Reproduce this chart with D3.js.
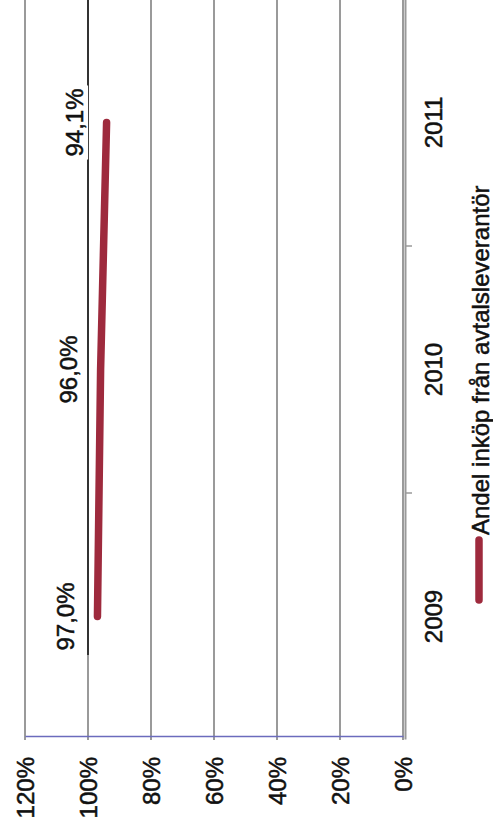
<!DOCTYPE html>
<html>
<head>
<meta charset="utf-8">
<script src="https://cdn.jsdelivr.net/npm/d3@7/dist/d3.min.js"></script>
<style>
  html, body { margin: 0; padding: 0; background: #fff; }
  svg { display: block; font-family: "Liberation Sans", Arial, sans-serif; }
  text { stroke: #111; stroke-width: 0.5px; }
</style>
</head>
<body>
<script>
// Share of purchases made from contracted suppliers, per year
const years = ["2009", "2010", "2011"];
const shares = [0.970, 0.960, 0.941];
const valueLabels = ["97,0%", "96,0%", "94,1%"];
const tickValues = [0, 0.2, 0.4, 0.6, 0.8, 1.0, 1.2];
const tickLabels = ["0%", "20%", "40%", "60%", "80%", "100%", "120%"];
const seriesName = "Andel inköp från avtalsleverantör";

const W = 493, H = 836;
const svg = d3.select("body").append("svg").attr("width", W).attr("height", H);

// The chart is laid out in a landscape frame and turned a quarter turn
const g = svg.append("g").attr("transform", `translate(0,${H}) rotate(-90)`);

const x = d3.scaleBand().domain(years).range([96, 837]);
const y = d3.scaleLinear().domain([0, 1.2]).range([403, 25]);

// horizontal gridlines
g.append("g").selectAll("line").data(tickValues).join("line")
  .attr("x1", 96).attr("x2", 837)
  .attr("y1", d => y(d)).attr("y2", d => y(d))
  .attr("stroke", "#9a9a9a")
  .attr("stroke-width", 2);
// the 100% line is drawn darker across most of the plot
g.append("line")
  .attr("x1", 181).attr("x2", 837)
  .attr("y1", y(1.0)).attr("y2", y(1.0))
  .attr("stroke", "#333").attr("stroke-width", 2);

// category axis
const xAxis = g.append("g").attr("transform", `translate(0,${y(0) + 2})`)
  .call(d3.axisBottom(x).tickSize(0).tickPadding(0));
xAxis.select(".domain").attr("stroke", "#9a9a9a").attr("stroke-width", 2);
xAxis.selectAll(".tick text").remove();
g.append("g").selectAll("line").data(years.slice(1)).join("line")
  .attr("x1", d => x(d)).attr("x2", d => x(d))
  .attr("y1", y(0) + 2).attr("y2", y(0) + 9)
  .attr("stroke", "#9a9a9a").attr("stroke-width", 1.5);
g.append("g").selectAll("text").data(years).join("text")
  .attr("x", d => x(d) + x.bandwidth() / 2)
  .attr("y", 433)
  .attr("text-anchor", "middle")
  .attr("dominant-baseline", "central")
  .attr("font-size", 24)
  .attr("fill", "#111")
  .text(d => d);

// value axis
const yAxis = g.append("g").attr("transform", `translate(99,0)`)
  .call(d3.axisLeft(y).tickValues(tickValues).tickSize(0).tickPadding(20)
    .tickFormat((d, i) => tickLabels[i]));
yAxis.select(".domain").attr("stroke", "#6b6bbd").attr("stroke-width", 1.5);
yAxis.selectAll(".tick text")
  .attr("font-size", 24)
  .attr("font-family", "Liberation Sans, Arial, sans-serif")
  .attr("fill", "#111")
  .attr("dy", "0.35em");

// series line
const pts = years.map((yr, i) => ({ yr, v: shares[i], label: valueLabels[i] }));
const line = d3.line().x(d => x(d.yr) + x.bandwidth() / 2).y(d => y(d.v));
g.append("path").datum(pts)
  .attr("d", line)
  .attr("fill", "none")
  .attr("stroke", "#9e2a3d")
  .attr("stroke-width", 7.5)
  .attr("stroke-linecap", "round");

// value labels on a white ground
const lbl = g.append("g").selectAll("g").data(pts).join("g")
  .attr("transform", d => `translate(${x(d.yr) + x.bandwidth() / 2},${y(d.v) - 32})`);
lbl.append("text")
  .attr("text-anchor", "middle")
  .attr("dominant-baseline", "central")
  .attr("font-size", 24)
  .attr("fill", "#111")
  .text(d => d.label);
lbl.each(function () {
  const t = d3.select(this).select("text");
  const b = t.node().getBBox();
  d3.select(this).insert("rect", "text")
    .attr("x", b.x - 3).attr("y", b.y)
    .attr("width", b.width + 6).attr("height", b.height)
    .attr("fill", "#fff");
});

// legend
const leg = g.append("g").attr("transform", "translate(236,479)");
leg.append("line").attr("x1", 0).attr("x2", 60).attr("y1", 0).attr("y2", 0)
  .attr("stroke", "#9e2a3d").attr("stroke-width", 7.5).attr("stroke-linecap", "round");
leg.append("text").attr("x", 65).attr("y", 1)
  .attr("dominant-baseline", "central")
  .attr("font-size", 24)
  .attr("fill", "#111")
  .text(seriesName);
</script>
</body>
</html>
